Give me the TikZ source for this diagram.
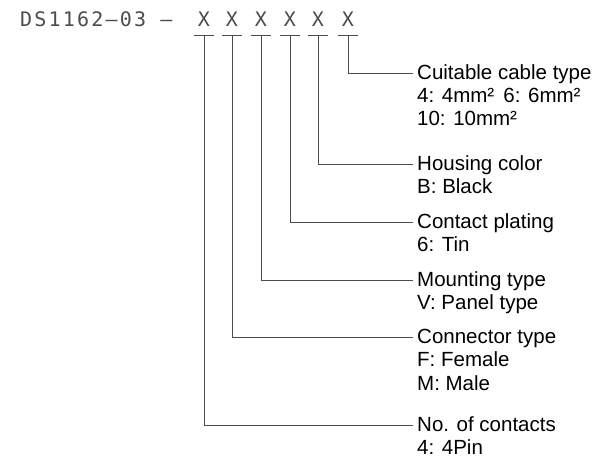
\documentclass[tikz,border=0pt]{standalone}
\usepackage{fontspec}
\setmainfont{Liberation Sans}
\newfontfamily\cadfont[LetterSpace=11]{DejaVu Sans Mono}
\newfontfamily\cadx{DejaVu Sans Mono}
\usetikzlibrary{positioning,calc}
\tikzset{
  code/.style={inner sep=0pt,text=black!70,font=\cadx\fontsize{20}{22}\selectfont},
  title/.style={anchor=base west,inner xsep=4pt,inner ysep=0pt,font=\fontsize{20.5}{23.5}\selectfont},
  detail/.style={anchor=north west,align=left,inner xsep=4pt,inner ysep=0pt,font=\fontsize{20.5}{23.5}\selectfont},
  lead/.style={draw=black!70,line width=0.9pt}
}

\begin{document}
\begin{tikzpicture}[x=1pt,y=-1pt]
\useasboundingbox (0,0) rectangle (598,461);
% Draw the type code and the six X places
\node[code,anchor=base west,font=\cadfont\fontsize{20}{22}\selectfont] (code) at (20,26) {DS1162–03 –};
\node[code,anchor=base] (x1) at (204,26) {X};
\node[code,anchor=base] (x2) at (232,26) {X};
\node[code,anchor=base] (x3) at (261,26) {X};
\node[code,anchor=base] (x4) at (290,26) {X};
\node[code,anchor=base] (x5) at (318,26) {X};
\node[code,anchor=base] (x6) at (348,26) {X};
% Underline each place
\draw[lead] ($(x1.base)+(-10,9)$) -- coordinate (u1) ($(x1.base)+(10,9)$);
\draw[lead] ($(x2.base)+(-10,9)$) -- coordinate (u2) ($(x2.base)+(10,9)$);
\draw[lead] ($(x3.base)+(-10,9)$) -- coordinate (u3) ($(x3.base)+(10,9)$);
\draw[lead] ($(x4.base)+(-10,9)$) -- coordinate (u4) ($(x4.base)+(10,9)$);
\draw[lead] ($(x5.base)+(-10,9)$) -- coordinate (u5) ($(x5.base)+(10,9)$);
\draw[lead] ($(x6.base)+(-10,9)$) -- coordinate (u6) ($(x6.base)+(10,9)$);
% Titles of the places
\node[title] (cable) at (413,79) {Cuitable cable type};
\node[title] (housing) at (413,170) {Housing color};
\node[title] (plating) at (413,228) {Contact plating};
\node[title] (mounting) at (413,286) {Mounting type};
\node[title] (conn) at (413,343) {Connector type};
\node[title] (contacts) at (413,431) {No. of contacts};
% Values below each title
\node[detail] (cablev) at ($(cable.base west)+(0,8.8)$) {4: 4mm²\hspace{0.45em}6: 6mm²\\10: 10mm²};
\node[detail] (housingv) at ($(housing.base west)+(0,8.8)$) {B: Black};
\node[detail] (platingv) at ($(plating.base west)+(0,8.8)$) {6: Tin};
\node[detail] (mountingv) at ($(mounting.base west)+(0,8.8)$) {V: Panel type};
\node[detail] (connv) at ($(conn.base west)+(0,8.8)$) {F: Female\\M: Male};
\node[detail] (contactsv) at ($(contacts.base west)+(0,8.8)$) {4: 4Pin};
% Leaders from the places to the titles
\draw[lead] (u6) |- ([yshift=6pt]cable.base west);
\draw[lead] (u5) |- ([yshift=6pt]housing.base west);
\draw[lead] (u4) |- ([yshift=6pt]plating.base west);
\draw[lead] (u3) |- ([yshift=6pt]mounting.base west);
\draw[lead] (u2) |- ([yshift=6pt]conn.base west);
\draw[lead] (u1) |- ([yshift=6pt]contacts.base west);
\end{tikzpicture}
\end{document}
